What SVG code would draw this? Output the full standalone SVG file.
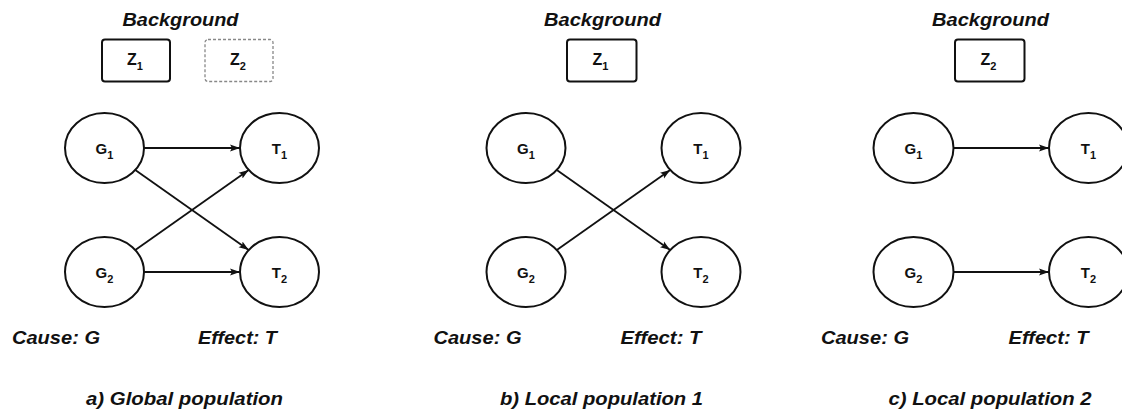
<svg xmlns="http://www.w3.org/2000/svg" width="1122" height="411" viewBox="0 0 1122 411">
<style>
.node{fill:#fff;stroke:#111;stroke-width:2}
.box{fill:#fff;stroke:#111;stroke-width:2}
.dbox{fill:#fff;stroke:#888;stroke-width:1.3;stroke-dasharray:3 2}
.lbl{font-family:"Liberation Sans",Arial,sans-serif;font-weight:bold;font-size:15px;fill:#111;text-anchor:middle}
.zl{font-size:16px}
.sub{font-size:11px}
.it{font-family:"Liberation Sans",Arial,sans-serif;font-weight:bold;font-style:italic;font-size:18px;fill:#111}
.edge{stroke:#111;stroke-width:1.8;fill:none;marker-end:url(#arr)}
</style>
<defs>
<marker id="arr" markerUnits="userSpaceOnUse" markerWidth="10" markerHeight="8" refX="10" refY="4" orient="auto">
<path d="M0,0.5 L10,4 L0,7.5 L2,4 z" fill="#111"/>
</marker>
</defs>
<rect width="1122" height="411" fill="#fff"/>

<g id="panel-a-texts">
<text class="it" x="180.5" y="26" text-anchor="middle" textLength="116" lengthAdjust="spacingAndGlyphs">Background</text>
<text class="it" x="12" y="344" textLength="88" lengthAdjust="spacingAndGlyphs">Cause: G</text>
<text class="it" x="198" y="344" textLength="79" lengthAdjust="spacingAndGlyphs">Effect: T</text>
<text class="it" x="86" y="405" textLength="197" lengthAdjust="spacingAndGlyphs">a) Global population</text>
</g>
<g id="a-Z1"><rect class="box" x="102" y="39.5" width="68" height="42" rx="3"/><text class="lbl zl" x="135" y="65">Z<tspan class="sub" dy="5">1</tspan></text></g>
<g id="a-Z2"><rect class="dbox" x="205" y="39.5" width="68" height="42" rx="3"/><text class="lbl zl" x="238" y="65">Z<tspan class="sub" dy="5">2</tspan></text></g>
<g id="a-G1"><ellipse class="node" cx="104.5" cy="148" rx="39.5" ry="35"/><text class="lbl" x="104.5" y="153.5">G<tspan class="sub" dy="5">1</tspan></text></g>
<g id="a-T1"><ellipse class="node" cx="279.5" cy="148" rx="39.5" ry="35"/><text class="lbl" x="279.5" y="153.5">T<tspan class="sub" dy="5">1</tspan></text></g>
<g id="a-G2"><ellipse class="node" cx="104.5" cy="272" rx="39.5" ry="35"/><text class="lbl" x="104.5" y="277.5">G<tspan class="sub" dy="5">2</tspan></text></g>
<g id="a-T2"><ellipse class="node" cx="279.5" cy="272" rx="39.5" ry="35"/><text class="lbl" x="279.5" y="277.5">T<tspan class="sub" dy="5">2</tspan></text></g>

<g id="panel-b-texts">
<text class="it" x="602.5" y="26" text-anchor="middle" textLength="117" lengthAdjust="spacingAndGlyphs">Background</text>
<text class="it" x="433.5" y="344" textLength="88" lengthAdjust="spacingAndGlyphs">Cause: G</text>
<text class="it" x="620.5" y="344" textLength="81" lengthAdjust="spacingAndGlyphs">Effect: T</text>
<text class="it" x="500" y="405" textLength="203" lengthAdjust="spacingAndGlyphs">b) Local population 1</text>
</g>
<g id="b-Z1"><rect class="box" x="567" y="39.5" width="69.5" height="42" rx="3"/><text class="lbl zl" x="600.5" y="65">Z<tspan class="sub" dy="5">1</tspan></text></g>
<g id="b-G1"><ellipse class="node" cx="526" cy="148" rx="39.5" ry="35"/><text class="lbl" x="526" y="153.5">G<tspan class="sub" dy="5">1</tspan></text></g>
<g id="b-T1"><ellipse class="node" cx="701" cy="148" rx="39.5" ry="35"/><text class="lbl" x="701" y="153.5">T<tspan class="sub" dy="5">1</tspan></text></g>
<g id="b-G2"><ellipse class="node" cx="526" cy="272" rx="39.5" ry="35"/><text class="lbl" x="526" y="277.5">G<tspan class="sub" dy="5">2</tspan></text></g>
<g id="b-T2"><ellipse class="node" cx="701" cy="272" rx="39.5" ry="35"/><text class="lbl" x="701" y="277.5">T<tspan class="sub" dy="5">2</tspan></text></g>

<g id="panel-c-texts">
<text class="it" x="990.5" y="26" text-anchor="middle" textLength="117" lengthAdjust="spacingAndGlyphs">Background</text>
<text class="it" x="821" y="344" textLength="88" lengthAdjust="spacingAndGlyphs">Cause: G</text>
<text class="it" x="1008.5" y="344" textLength="80" lengthAdjust="spacingAndGlyphs">Effect: T</text>
<text class="it" x="888.5" y="405" textLength="203" lengthAdjust="spacingAndGlyphs">c) Local population 2</text>
</g>
<g id="c-Z2"><rect class="box" x="955" y="39.5" width="69.5" height="42" rx="3"/><text class="lbl zl" x="988.5" y="65">Z<tspan class="sub" dy="5">2</tspan></text></g>
<g id="c-G1"><ellipse class="node" cx="913.5" cy="148" rx="40" ry="35"/><text class="lbl" x="913.5" y="153.5">G<tspan class="sub" dy="5">1</tspan></text></g>
<g id="c-T1"><ellipse class="node" cx="1088.5" cy="148" rx="39.5" ry="35"/><text class="lbl" x="1088.5" y="153.5">T<tspan class="sub" dy="5">1</tspan></text></g>
<g id="c-G2"><ellipse class="node" cx="913.5" cy="272" rx="40" ry="35"/><text class="lbl" x="913.5" y="277.5">G<tspan class="sub" dy="5">2</tspan></text></g>
<g id="c-T2"><ellipse class="node" cx="1088.5" cy="272" rx="39.5" ry="35"/><text class="lbl" x="1088.5" y="277.5">T<tspan class="sub" dy="5">2</tspan></text></g>

<g id="connectors">
<line class="edge" x1="144" y1="148" x2="240" y2="148"/>
<line class="edge" x1="144" y1="272" x2="240" y2="272"/>
<line class="edge" x1="135.3" y1="169.9" x2="248.7" y2="250.1"/>
<line class="edge" x1="135.3" y1="250.1" x2="248.7" y2="169.9"/>
<line class="edge" x1="556.8" y1="169.9" x2="670.2" y2="250.1"/>
<line class="edge" x1="556.8" y1="250.1" x2="670.2" y2="169.9"/>
<line class="edge" x1="953.5" y1="148" x2="1049" y2="148"/>
<line class="edge" x1="953.5" y1="272" x2="1049" y2="272"/>
</g>
</svg>
